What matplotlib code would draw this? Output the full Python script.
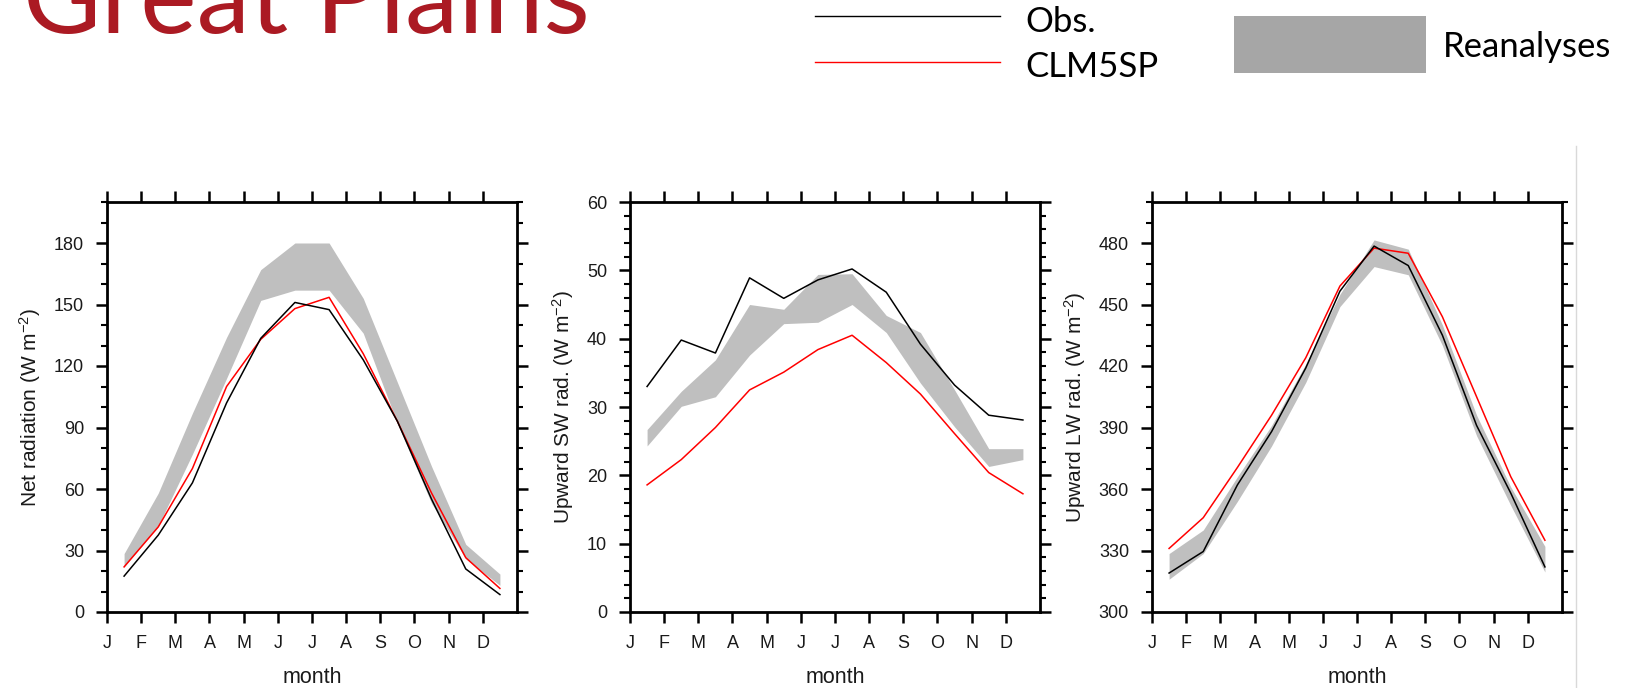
import numpy as np
import matplotlib
matplotlib.use("Agg")
import matplotlib.pyplot as plt
from matplotlib.lines import Line2D
from matplotlib.patches import Rectangle

# --- Data ---
months = ["J", "F", "M", "A", "M", "J", "J", "A", "S", "O", "N", "D"]
month_mid = np.arange(12) + 0.5

netrad_obs = [17.5, 37.5, 63, 102, 133.5, 151, 147.5, 123, 93, 55, 21, 8.5]
netrad_clm = [22, 41.5, 70, 110, 133, 148, 153.5, 126, 93, 58, 26.5, 11.5]
netrad_rean_lo = [22, 42, 77, 114, 152, 157, 157, 136, 92, 53, 26, 13]
netrad_rean_hi = [28.5, 58, 97, 134, 167, 180, 180, 153, 112, 71, 33, 18.5]

sw_obs = [33.0, 39.8, 37.9, 48.9, 45.9, 48.6, 50.2, 46.8, 39.2, 33.2, 28.8, 28.1]
sw_clm = [18.6, 22.3, 27.0, 32.5, 35.1, 38.4, 40.5, 36.5, 31.9, 26.1, 20.4, 17.3]
sw_rean_lo = [24.3, 30.1, 31.5, 37.6, 42.2, 42.4, 45.0, 40.9, 33.5, 27.1, 21.3, 22.3]
sw_rean_hi = [26.7, 32.3, 36.9, 45.0, 44.3, 49.4, 49.5, 43.4, 40.9, 32.5, 23.9, 23.9]

lw_obs = [319, 329.5, 362, 388, 419, 456.5, 478.5, 469, 435, 391, 358, 322]
lw_clm = [331, 346, 370.5, 396, 424, 459, 477.5, 475, 444, 405, 366, 335]
lw_rean_lo = [316, 328.5, 354, 381, 412, 449, 468.5, 464.5, 430, 386, 352, 319.5]
lw_rean_hi = [328.5, 340, 366, 391, 421, 455, 481.5, 477, 440, 396, 361, 332]

W, H = 1631, 688
plt.rcParams["font.family"] = "Liberation Sans"
plt.rcParams["mathtext.fontset"] = "custom"
plt.rcParams["mathtext.rm"] = "Liberation Sans"
plt.rcParams["mathtext.it"] = "Liberation Sans:italic"

fig = plt.figure(figsize=(W / 100, H / 100), dpi=100)

BAND = "#bfbfbf"
TXT = "#1a1a1a"
panels = [
    (107, netrad_obs, netrad_clm, netrad_rean_lo, netrad_rean_hi,
     (0, 200), np.arange(0, 181, 30), np.arange(0, 201, 10),
     r"Net radiation (W m$^{-2}$)"),
    (630, sw_obs, sw_clm, sw_rean_lo, sw_rean_hi,
     (0, 60), np.arange(0, 61, 10), np.arange(0, 61, 2),
     r"Upward SW rad. (W m$^{-2}$)"),
    (1152, lw_obs, lw_clm, lw_rean_lo, lw_rean_hi,
     (300, 500), np.arange(300, 481, 30), np.arange(300, 501, 10),
     r"Upward LW rad. (W m$^{-2}$)"),
]

for left, obs, clm, lo, hi, ylim, major, minor, ylabel in panels:
    ax = fig.add_axes([left / W, (H - 612) / H, 410 / W, 410 / H])
    ax.fill_between(month_mid, lo, hi, color=BAND, linewidth=0)
    ax.plot(month_mid, clm, color="#ff0000", linewidth=1.1)
    ax.plot(month_mid, obs, color="black", linewidth=1.1)
    ax.set_xlim(0, 12)
    ax.set_ylim(*ylim)
    ax.set_xticks(range(12))
    ax.set_xticklabels(months)
    ax.set_yticks(major)
    ax.set_yticks(minor, minor=True)
    ax.tick_params(axis="x", which="major", direction="out", top=True,
                   length=8, width=1.8, pad=8.5, labelsize=13, labelcolor=TXT)
    ax.tick_params(axis="y", which="major", direction="out", right=True,
                   length=8, width=1.8, pad=8.5, labelsize=13, labelcolor=TXT)
    ax.tick_params(axis="y", which="minor", direction="out", right=True,
                   length=4.5, width=1.5)
    for sp in ax.spines.values():
        sp.set_linewidth(2)
    ax.set_xlabel("month", fontsize=15.5, labelpad=11, color=TXT)
    ax.set_ylabel(ylabel, fontsize=15, labelpad=8, color=TXT)

# --- Title and legend ---
def px(x, y):
    return x / W, 1 - y / H

fig.text(*px(23, 33), "Great Plains", color="#ab1a23", fontsize=77,
         family="Lato", va="baseline", ha="left")

fig.add_artist(Line2D([815 / W, 1000 / W], [1 - 15.7 / H] * 2, color="black", linewidth=1.0))
fig.add_artist(Line2D([815 / W, 1000 / W], [1 - 61.7 / H] * 2, color="#ff0000", linewidth=1.0))
fig.add_artist(Rectangle((1234 / W, 1 - 73 / H), 192 / W, 57 / H,
                         transform=fig.transFigure, color="#a6a6a6", linewidth=0))
leg_font = dict(fontsize=25, family="Lato", va="baseline", ha="left", color="black")
fig.text(*px(1025, 32), "Obs.", **leg_font)
fig.text(*px(1025, 77), "CLM5SP", **leg_font)
fig.text(*px(1443, 57), "Reanalyses", **leg_font)

# slide edge line on the right
fig.add_artist(Line2D([1576 / W] * 2, [0, 1 - 146 / H], color="#d9d9d9", linewidth=1.0))

fig.savefig("out.png", dpi=100)
